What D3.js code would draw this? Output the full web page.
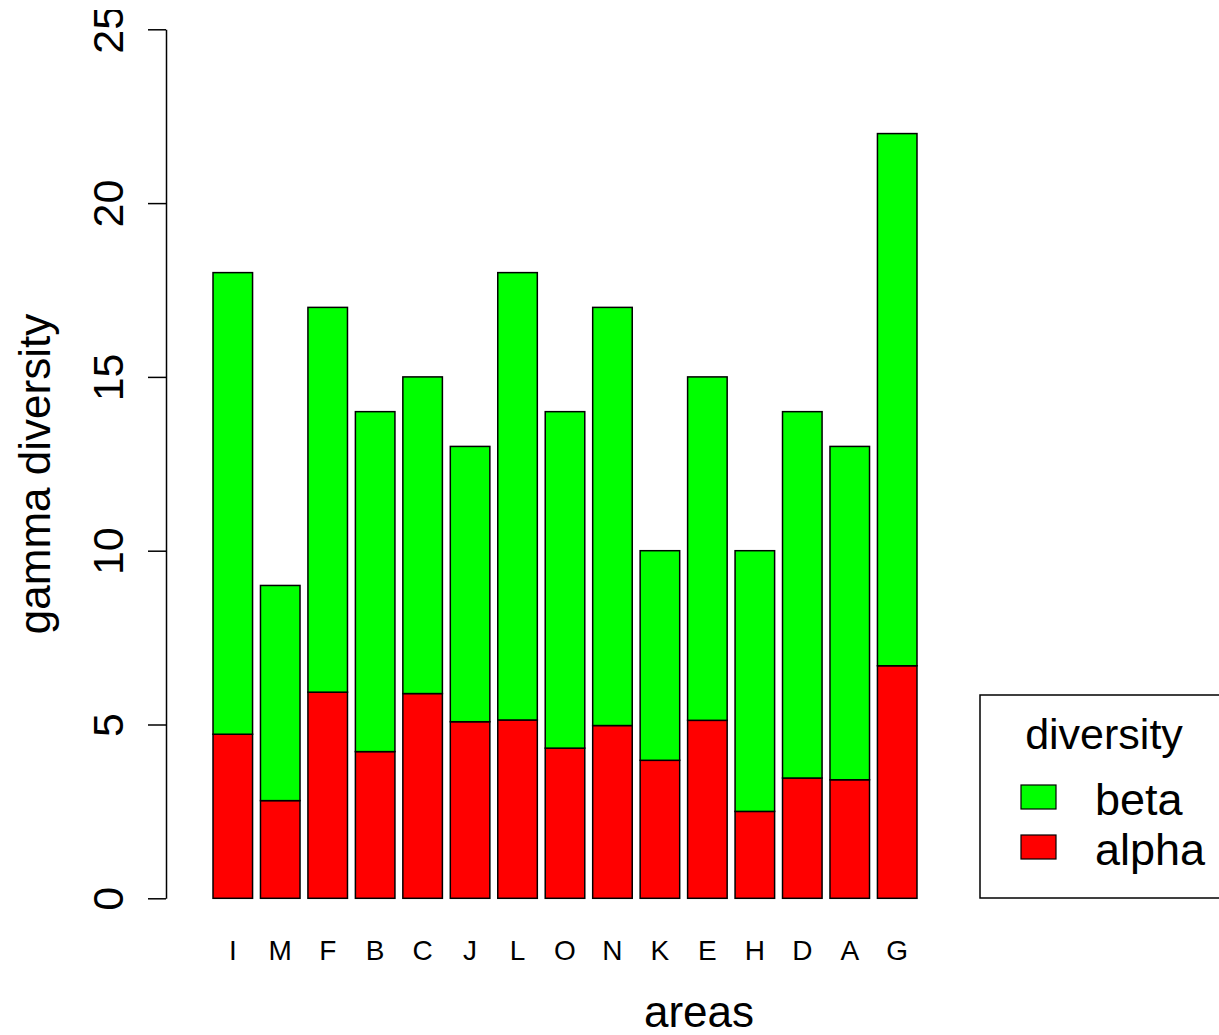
<!DOCTYPE html>
<html>
<head>
<meta charset="utf-8">
<script src="https://cdn.jsdelivr.net/npm/d3@7"></script>
<style>
html,body{margin:0;padding:0;background:#fff;}
svg{display:block;font-family:"Liberation Sans",Arial,Helvetica,sans-serif;}
</style>
</head>
<body>
<svg id="chart" width="1219" height="1035"></svg>
<script>
const areas = ["I","M","F","B","C","J","L","O","N","K","E","H","D","A","G"];
const alphaVals = [4.72,2.81,5.93,4.22,5.89,5.08,5.13,4.32,4.97,3.97,5.12,2.50,3.46,3.41,6.69];
const gammaVals = [18,9,17,14,15,13,18,14,17,10,15,10,14,13,22];
const betaVals = gammaVals.map((g,i)=>g-alphaVals[i]);
const yTicks = [0,5,10,15,20,25];
const seriesNames = ["beta","alpha"];
const seriesColors = ["#00ff00","#ff0000"];

const svg = d3.select("#chart");
svg.append("defs").append("clipPath").attr("id","topclip")
  .append("rect").attr("x",0).attr("y",10).attr("width",1219).attr("height",1025);

const x = d3.scaleBand().domain(areas).range([205.1,924.9]).paddingInner(1/6).paddingOuter(1/6);
const y = d3.scaleLinear().domain([0,25]).range([898.3,29.3]);

const stackData = areas.map((a,i)=>({area:a, alpha:alphaVals[i], beta:betaVals[i]}));
const stack = d3.stack().keys(["alpha","beta"])(stackData);
const colorOf = {alpha:"#ff0000", beta:"#00ff00"};

svg.append("g").selectAll("g").data(stack).join("g")
  .attr("fill", d=>colorOf[d.key])
  .selectAll("rect").data(d=>d).join("rect")
  .attr("x", d=>x(d.data.area))
  .attr("width", x.bandwidth())
  .attr("y", d=>y(d[1]))
  .attr("height", d=>y(d[0])-y(d[1]))
  .attr("stroke","#000").attr("stroke-width",1.5);

// y axis
const yAxis = d3.axisLeft(y).tickValues(yTicks).tickSize(18).tickSizeOuter(0).tickPadding(0);
const ga = svg.append("g").attr("clip-path","url(#topclip)")
  .append("g").attr("transform","translate(166,0)").call(yAxis);
ga.select(".domain").attr("stroke","#000").attr("stroke-width",1.5);
ga.selectAll(".tick line").attr("stroke","#000").attr("stroke-width",1.5);
ga.selectAll(".tick text")
  .attr("x",null).attr("dy",null)
  .attr("transform","translate(-43,0) rotate(-90)")
  .attr("text-anchor","middle")
  .attr("font-size",43).attr("fill","#000")
  .attr("font-family","Liberation Sans, Arial, sans-serif");

// x labels
const xAxis = d3.axisBottom(x).tickSize(0).tickPadding(0);
const gx = svg.append("g").attr("transform","translate(0,960)").call(xAxis);
gx.select(".domain").remove();
gx.selectAll(".tick text").attr("dy",null).attr("y",0)
  .attr("font-size",28).attr("fill","#000")
  .attr("font-family","Liberation Sans, Arial, sans-serif");

// axis titles
svg.append("text").attr("x",699).attr("y",1027).attr("text-anchor","middle")
  .attr("font-size",44).text("areas");
svg.append("text").attr("transform","translate(50,474) rotate(-90)").attr("text-anchor","middle")
  .attr("font-size",44).text("gamma diversity");

// legend
const lg = svg.append("g");
lg.append("rect").attr("x",980).attr("y",695).attr("width",260).attr("height",203)
  .attr("fill","none").attr("stroke","#000").attr("stroke-width",1.5);
lg.append("text").attr("x",1104).attr("y",749).attr("text-anchor","middle")
  .attr("font-size",43).text("diversity");
const legY = d3.scaleBand().domain(seriesNames).range([772,872]);
seriesNames.forEach((s,i)=>{
  const cy = legY(s)+legY.bandwidth()/2;
  lg.append("rect").attr("x",1021).attr("y",cy-12).attr("width",35).attr("height",24)
    .attr("fill",seriesColors[i]).attr("stroke","#000").attr("stroke-width",1.2);
  lg.append("text").attr("x",1095).attr("y",cy+17.5).attr("font-size",45).text(s);
});
</script>
</body>
</html>
